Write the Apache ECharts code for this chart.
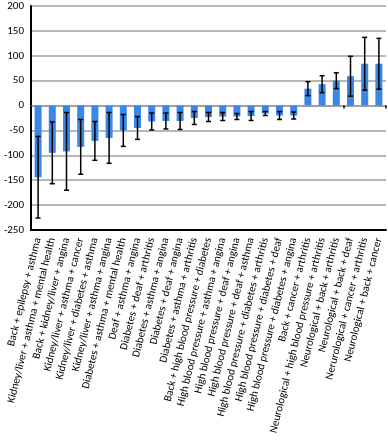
<!DOCTYPE html>
<html>
<head>
<meta charset="utf-8">
<script src="https://cdn.jsdelivr.net/npm/echarts@6/dist/echarts.min.js"></script>
<style>
  html, body { margin: 0; padding: 0; background: #fff; }
  #chart { width: 388px; height: 440px; }
</style>
</head>
<body>
<div id="chart"></div>
<script>
const categories = [
  'Back + epilepsy + asthma',
  'Kidney/liver + asthma + mental health',
  'Back + kidney/liver + angina',
  'Kidney/liver + asthma + cancer',
  'Kidney/liver + diabetes + asthma',
  'Kidney/liver + asthma + angina',
  'Diabetes + asthma + mental health',
  'Deaf + asthma + angina',
  'Diabetes + deaf + arthritis',
  'Diabetes + asthma + angina',
  'Diabetes + deaf + angina',
  'Diabetes + asthma + arthritis',
  'Back + high blood pressure + diabetes',
  'High blood pressure + asthma + angina',
  'High blood pressure + deaf + angina',
  'High blood pressure + deaf + asthma',
  'High blood pressure + diabetes + arthritis',
  'High blood pressure + diabetes + deaf',
  'High blood pressure + diabetes + angina',
  'Back + cancer + arthritis',
  'Neurological + high blood pressure + arthritis',
  'Neurological + back + arthritis',
  'Neurological + back + deaf',
  'Nerurological + cancer + arthritis',
  'Neurological + back + cancer'
]
// bar heights
const means = [-144, -95, -92, -83, -71, -65, -50, -45, -32, -31, -31, -25, -23, -22, -22, -21, -16, -20, -20, 34, 43, 50, 59, 84, 84]
// half length of the error bar
const errors = [82, 62, 78, 55, 39, 51, 32, 23, 17, 16, 17, 13, 9, 8, 6, 9, 4, 8, 7, 14, 17, 16, 40, 53, 51]
const yTicks = [-250, -200, -150, -100, -50, 0, 50, 100, 150, 200]

const FONT = 'Carlito, Lato, sans-serif'

function getOptions() {
  const errData = means.map((m, i) => [i, m - errors[i], m + errors[i]])
  return {
    animation: false,
    grid: { left: 31, right: 2, top: 6, bottom: 210 },
    xAxis: [{
      type: 'category',
      data: categories,
      position: 'bottom',
      axisLine: { onZero: false, lineStyle: { color: '#000', width: 2 } },
      axisTick: { show: false },
      axisLabel: {
        interval: 0,
        rotate: 76,
        margin: 8,
        color: '#000',
        fontSize: 11,
        fontFamily: FONT
      }
    }, {
      // axis crossing at zero, only the ticks
      type: 'category',
      data: categories,
      position: 'bottom',
      axisLine: { onZero: true, lineStyle: { color: '#999', width: 1.5 } },
      axisTick: { show: true, length: 3, lineStyle: { color: '#000', width: 1.5 } },
      axisLabel: { show: false }
    }],
    yAxis: {
      type: 'value',
      min: yTicks[0],
      max: yTicks[yTicks.length - 1],
      interval: 50,
      axisLine: { show: true, lineStyle: { color: '#000', width: 2 } },
      axisTick: { show: false },
      splitLine: { lineStyle: { color: '#a0a0a0', width: 1.5 } },
      axisLabel: { color: '#000', fontSize: 11, fontFamily: FONT, margin: 7 }
    },
    series: [{
      type: 'bar',
      data: means,
      barWidth: 7,
      itemStyle: { color: '#3b87e6' }
    }, {
      type: 'custom',
      data: errData,
      z: 10,
      renderItem: function (params, api) {
        const x = api.value(0)
        const lo = api.coord([x, api.value(1)])
        const hi = api.coord([x, api.value(2)])
        const w = 2.5
        const style = { stroke: '#000', lineWidth: 1.5 }
        return {
          type: 'group',
          children: [
            { type: 'line', shape: { x1: lo[0], y1: lo[1], x2: hi[0], y2: hi[1] }, style: style },
            { type: 'line', shape: { x1: lo[0] - w, y1: lo[1], x2: lo[0] + w, y2: lo[1] }, style: style },
            { type: 'line', shape: { x1: hi[0] - w, y1: hi[1], x2: hi[0] + w, y2: hi[1] }, style: style }
          ]
        }
      }
    }]
  }
}

const chart = echarts.init(document.getElementById('chart'))
chart.setOption(getOptions())
</script>
</body>
</html>
